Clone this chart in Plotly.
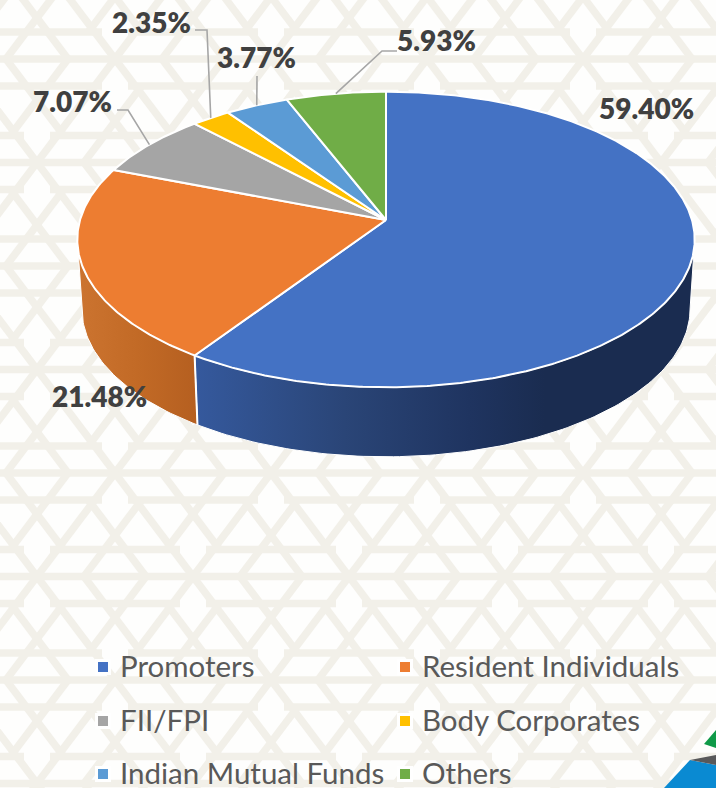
import math
import plotly.graph_objects as go

categories = ["Promoters", "Resident Individuals", "FII/FPI", "Body Corporates", "Indian Mutual Funds", "Others"]
shares = [59.40, 21.48, 7.07, 2.35, 3.77, 5.93]
colors = ["#4472C4", "#ED7D31", "#A5A5A5", "#FFC000", "#5B9BD5", "#70AD47"]

# projection of the tilted disk (pixel-sized axis units)
CX, CY = 386.0, 220.0
A, B, P = 145.2, 306.0, 0.132
DEPTH, SHRINK = 69.5, 0.985


def rim(turn, lower=False):
    t = math.radians(turn)
    u, v = math.sin(t), math.cos(t)
    w = 1 + P * v
    x = CX + B * u / w
    y = CY - A * v / w
    if lower:
        x = CX + SHRINK * (x - CX)
        y = y + DEPTH
    return x, y


def arc(a, b, lower=False, step=1.0):
    n = max(2, int(abs(b - a) / step) + 1)
    return [rim(a + (b - a) * i / (n - 1), lower) for i in range(n)]


total = sum(shares)
edges = [0.0]
for s in shares:
    edges.append(edges[-1] + 360.0 * s / total)

fig = go.Figure()

# background lattice: crossings every 156 across, rows every 103.5 down
PX, ROW = 156.0, 103.5
SLOPE = ROW / 78.0
DELTA, BAND = 47.0, 27.0
X0, Y0 = 115.0, 473.0
lx, ly = [], []


def seg(x1, y1, x2, y2):
    lx.extend([x1, x2, None])
    ly.extend([y1, y2, None])


for r in range(-6, 5):
    yc = Y0 + r * ROW
    shift = 78.0 if r % 2 else 0.0
    seg(0, yc, 716, yc)
    for yb in (yc - BAND, yc + BAND):
        for k in range(-2, 7):
            xc = X0 + shift + k * PX
            seg(xc + 13, yb, xc + PX - 13, yb)
    for k in range(-3, 8):
        xc = X0 + shift + k * PX
        y1 = yc
        y2 = yc + ROW
        dx = ROW / SLOPE
        # long lines of the crossing
        seg(xc, y1, xc - dx, y2)
        seg(xc, y1, xc + dx, y2)
        # offset lines: each has a gap next to the row on one side
        seg(xc + DELTA - BAND / SLOPE, yc + BAND, xc + DELTA - dx, y2)
        seg(xc - DELTA - 0.0, yc, xc - DELTA - (ROW - BAND) / SLOPE, y2 - BAND)
        seg(xc - DELTA + BAND / SLOPE, yc + BAND, xc - DELTA + dx, y2)
        seg(xc + DELTA, yc, xc + DELTA + (ROW - BAND) / SLOPE, y2 - BAND)
fig.add_trace(go.Scatter(x=lx, y=ly, mode="lines", line=dict(color="#F2F0E9", width=7.5),
                         hoverinfo="skip", showlegend=False))

# side walls
wall_spec = [
    (97.6, edges[1], [[0, "#35599D"], [0.3, "#2A4577"], [0.55, "#1F3460"], [0.7, "#1A2C50"], [1, "#1A2C50"]]),
    (edges[1], 262.4, [[0, "#CC7430"], [0.5, "#C26A26"], [1, "#B55F20"]]),
]
for a, b, scale in wall_spec:
    pts = arc(a, b) + arc(b, a, lower=True)
    fig.add_trace(go.Scatter(x=[p[0] for p in pts] + [pts[0][0]], y=[p[1] for p in pts] + [pts[0][1]],
                             mode="lines", fill="toself",
                             line=dict(color="#FFFFFF", width=1),
                             fillgradient=dict(type="horizontal", colorscale=scale),
                             hoverinfo="skip", showlegend=False))
# wall seam
seam = [rim(edges[1]), rim(edges[1], lower=True)]
fig.add_trace(go.Scatter(x=[p[0] for p in seam], y=[p[1] for p in seam], mode="lines",
                         line=dict(color="#FFFFFF", width=2), hoverinfo="skip", showlegend=False))

# top face
for i, name in enumerate(categories):
    pts = [(CX, CY)] + arc(edges[i], edges[i + 1], step=0.5) + [(CX, CY)]
    fig.add_trace(go.Scatter(x=[p[0] for p in pts], y=[p[1] for p in pts], mode="lines", fill="toself",
                             fillcolor=colors[i], line=dict(color="#FFFFFF", width=2),
                             name=name, text=f"{name}: {shares[i]:.2f}%", hoverinfo="text", showlegend=False))

# leader lines: (slice index, elbow points)
leaders = {
    2: [(117, 110), (128, 110)],
    3: [(195, 30), (207, 30)],
    4: [(257, 76)],
    5: [(397, 51), (382, 51)],
}
for i, head in leaders.items():
    end = rim((edges[i] + edges[i + 1]) / 2)
    pts = head + [end]
    fig.add_trace(go.Scatter(x=[p[0] for p in pts], y=[p[1] for p in pts], mode="lines",
                             line=dict(color="#A6A6A6", width=1.6), hoverinfo="skip", showlegend=False))

# legend squares
leg_pos = [(103, 667), (405, 667), (103, 721), (405, 721), (103, 774), (405, 774)]
fig.add_trace(go.Scatter(x=[p[0] for p in leg_pos], y=[p[1] for p in leg_pos], mode="markers",
                         marker=dict(symbol="square", size=13, color=colors, line=dict(color="#FFFFFF", width=3)),
                         hoverinfo="skip", showlegend=False))

annotations = []
label_pos = [(646, 108), (99, 396), (72, 101), (151, 22), (256, 57), (436, 40)]
for s, (x, y) in zip(shares, label_pos):
    annotations.append(dict(x=x, y=y, text=f"{s:.2f}%", showarrow=False, xanchor="center", yanchor="middle",
                            font=dict(family="Lato", size=28, color="#404040", weight=800)))
for name, (x, y) in zip(categories, leg_pos):
    annotations.append(dict(x=x + 15, y=y - 2, text=name, showarrow=False, xanchor="left", yanchor="middle",
                            font=dict(family="Lato", size=29.5, color="#595959")))

shapes = [
    dict(type="path", path="M664,788 L690,760 L716,765 L716,788 Z", fillcolor="#0A8AD2", line=dict(width=0), layer="above"),
    dict(type="path", path="M690,760 L716,755 L716,765 Z", fillcolor="#58585A", line=dict(width=0), layer="above"),
    dict(type="path", path="M704,744 L716,730 L716,748 Z", fillcolor="#0F9A48", line=dict(width=0), layer="above"),
]

fig.update_layout(
    width=716, height=788, margin=dict(l=0, r=0, t=0, b=0),
    paper_bgcolor="#FEFEFD", plot_bgcolor="#FEFEFD", showlegend=False,
    xaxis=dict(range=[0, 716], visible=False, fixedrange=True),
    yaxis=dict(range=[788, 0], visible=False, fixedrange=True),
    annotations=annotations, shapes=shapes,
)
fig.write_html("out.html", config=dict(displayModeBar=False),
               post_script="document.body.style.margin='0';document.body.style.overflow='hidden';")
